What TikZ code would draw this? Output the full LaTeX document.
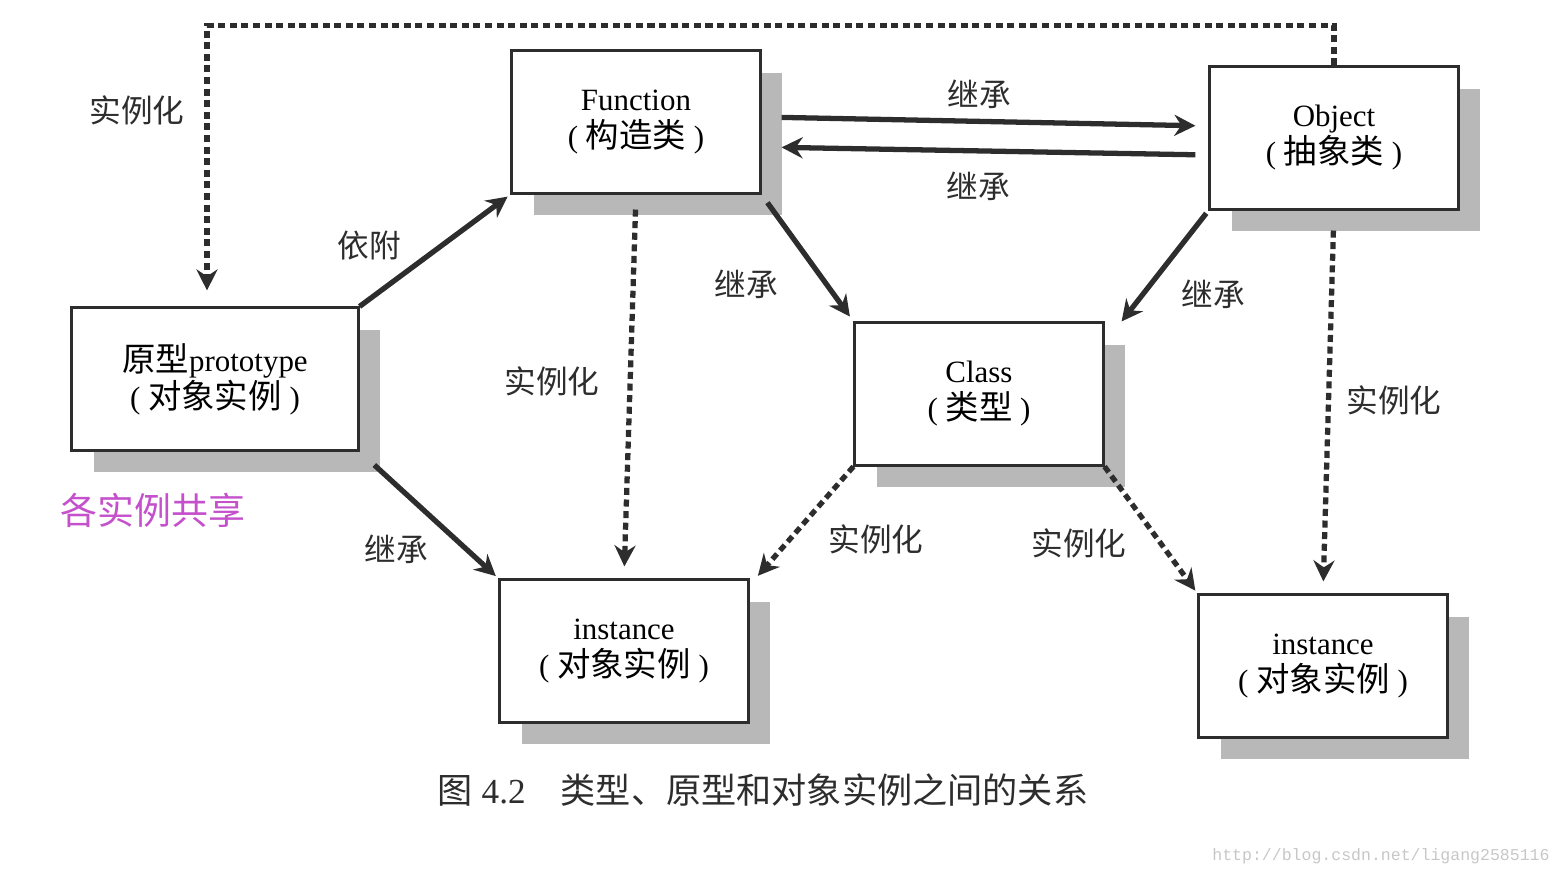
\documentclass[tikz,border=0pt]{standalone}
\usepackage{fontspec}
\setmainfont{Liberation Serif}
\setmonofont{Liberation Mono}
\newfontfamily\cjk{Noto Sans CJK SC}
\usetikzlibrary{arrows.meta,shadows}
\definecolor{shareclr}{RGB}{196,80,204}
\definecolor{lineclr}{RGB}{45,45,45}

\begin{document}
\begin{tikzpicture}[x=0.01cm, y=-0.01cm,
    box/.style={draw=lineclr, line width=0.85pt, fill=white, align=center,
      minimum width=2.48cm, minimum height=1.42cm, inner sep=2pt,
      font=\fontsize{8.8}{10.5}\selectfont,
      drop shadow={shadow xshift=0.22cm, shadow yshift=-0.22cm, fill=black!28, opacity=1}},
    inherit/.style={draw=lineclr, line width=1.5pt, -{Stealth[length=6pt, width=6pt, inset=2pt]}},
    instof/.style={inherit, dash pattern=on 2pt off 1.3pt},
    lbl/.style={font=\cjk\fontsize{9}{9}\selectfont, text=lineclr}]
    \useasboundingbox (0,0) rectangle (1562,876);

    \node[box] (func) at (636,122) {Function\\( {\cjk\fontsize{9.5}{10.5}\selectfont 构造类} )};
    \node[box] (obj) at (1334,138) {Object\\( {\cjk\fontsize{9.5}{10.5}\selectfont 抽象类} )};
    \node[box, minimum width=2.86cm] (proto) at (215,379) {{\cjk\fontsize{9.5}{10.5}\selectfont 原型}prototype\\( {\cjk\fontsize{9.5}{10.5}\selectfont 对象实例} )};
    \node[box] (cls) at (979,394) {Class\\( {\cjk\fontsize{9.5}{10.5}\selectfont 类型} )};
    \node[box] (inst1) at (624,651) {instance\\( {\cjk\fontsize{9.5}{10.5}\selectfont 对象实例} )};
    \node[box] (inst2) at (1323,666) {instance\\( {\cjk\fontsize{9.5}{10.5}\selectfont 对象实例} )};

    % inheritance
    \draw[inherit, shorten >=1pt] (proto.north east) -- (func.south west);
    \draw[inherit, shorten <=0.2cm, shorten >=1pt] (proto.south east) -- (inst1.north west);
    \draw[inherit, shorten <=0.1cm, shorten >=0.06cm] (func.south east) -- (cls.north west);
    \draw[inherit, shorten <=0.2cm, shorten >=0.13cm] ([yshift=0.05cm]func.east) -- ([yshift=0.12cm]obj.west);
    \draw[inherit, shorten <=0.13cm, shorten >=0.2cm] ([yshift=-0.17cm]obj.west) -- ([yshift=-0.25cm]func.east);
    \draw[inherit, shorten <=1pt] (obj.south west) -- ([xshift=0.17cm]cls.north east);

    % instantiation
    \draw[instof, shorten >=0.16cm] (obj.north) -- ++(0,-40) -| ([xshift=-0.08cm]proto.north);
    \draw[instof, shorten <=0.2cm, shorten >=0.12cm] (obj.south) -- (inst2.north);
    \draw[instof, shorten <=0.15cm, shorten >=0.12cm] (func.south) -- (inst1.north);
    \draw[instof, shorten >=1pt] (cls.south west) -- ([xshift=0.06cm]inst1.north east);
    \draw[instof, shorten >=1pt] (cls.south east) -- (inst2.north west);

    \node[lbl] (lbltop) at (137,110) {实例化};
    \node[lbl] (lbldep) at (369,246) {依附};
    \node[lbl] (lblpi) at (396,549) {继承};
    \node[lbl] (lblfi) at (552,381) {实例化};
    \node[lbl] (lblfc) at (746,284) {继承};
    \node[lbl] (lblfo) at (979,94) {继承};
    \node[lbl] (lblof) at (978,186) {继承};
    \node[lbl] (lbloc) at (1213,294) {继承};
    \node[lbl] (lbloi) at (1394,400) {实例化};
    \node[lbl] (lblci1) at (876,539) {实例化};
    \node[lbl] (lblci2) at (1079,543) {实例化};

    \node[font=\cjk\fontsize{10.5}{11}\selectfont, text=shareclr] (share) at (153,510) {各实例共享};
    \node[font=\fontsize{10}{11}\selectfont, text=lineclr] (caption) at (763,790)
      {{\cjk 图} 4.2\quad{\cjk 类型、原型和对象实例之间的关系}};
    \node[font=\ttfamily\fontsize{4.7}{5}\selectfont, text=black!22] (mark) at (1381,856)
      {http://blog.csdn.net/ligang2585116};

  \end{tikzpicture}
\end{document}
